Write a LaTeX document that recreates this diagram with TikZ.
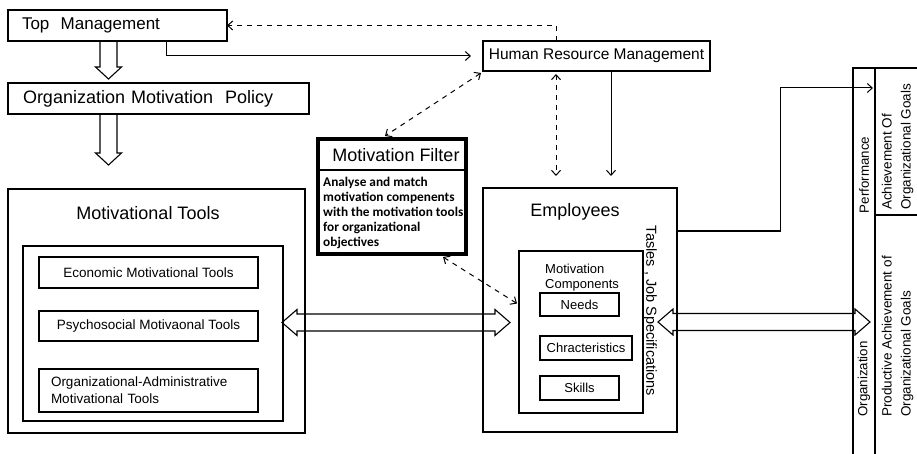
\documentclass[tikz,border=0pt]{standalone}
\usepackage{fontspec}
\setmainfont{Liberation Sans}
\newfontfamily\carl{Carlito}
\usetikzlibrary{calc,arrows.meta}
\newcommand\fsz[2]{\fontsize{#1pt}{#2pt}\selectfont}
% hollow downward arrow: x centre, y tail, y tip
\newcommand\hollowdown[3]{%
  \draw[harrow] (#1-8.5,#2) -- (#1-8.5,#3-12) -- (#1-13,#3-12) -- (#1,#3)
    -- (#1+13,#3-12) -- (#1+8.5,#3-12) -- (#1+8.5,#2);}
% hollow two-headed horizontal arrow: x left tip, x right tip, y centre
\newcommand\hollowboth[3]{%
  \draw[harrow] (#1,#3) -- (#1+15,#3-13) -- (#1+15,#3-8.5) -- (#2-15,#3-8.5)
    -- (#2-15,#3-13) -- (#2,#3) -- (#2-15,#3+13) -- (#2-15,#3+8.5)
    -- (#1+15,#3+8.5) -- (#1+15,#3+13) -- cycle;}
\begin{document}
\begin{tikzpicture}[x=1pt,y=-1pt,
  >={Straight Barb[length=5pt,width=9pt]},
  box/.style={draw, line width=1.1pt, outer sep=0pt, inner sep=0pt},
  conn/.style={line width=1pt, ->},
  dconn/.style={line width=1pt, dash pattern=on 5pt off 5pt},
  harrow/.style={draw, line width=1.1pt, line join=miter},
]
\useasboundingbox (0,0) rectangle (917,454);
\fill[white] (0,0) rectangle (917,454);
\clip (0,0) rectangle (917,454);

% top boxes
\node[box, anchor=north west, minimum width=219pt, minimum height=31pt, text width=191pt, inner xsep=14pt, align=left, font=\fsz{17}{20}] (tm) at (8,10) {Top\ \ Management};
\node[box, anchor=north west, minimum width=301pt, minimum height=31pt, text width=271pt, inner xsep=15pt, align=left, font=\fsz{18}{21}] (omp) at (8,83) {Organization Motivation\ \ Policy};
\node[box, anchor=north west, minimum width=227pt, minimum height=30pt, font=\fsz{15.5}{18}] (hrm) at (483,41) {Human Resource Management};

% motivation filter
\node[draw, line width=4pt, anchor=north west, minimum width=148pt, minimum height=115pt, outer sep=0pt, inner sep=0pt] (filter) at (318,139) {};
\draw[line width=1.1pt] ($(filter.north west)+(0,31)$) -- ($(filter.north east)+(0,31)$);
\node[font=\fsz{18}{21}] (ftitle) at ($(filter.north)+(4,16)$) {Motivation Filter};
\node[anchor=north west, inner sep=0pt, align=left, font=\carl\bfseries\fsz{13.3}{15}] (fbody) at (323,177) {Analyse and match\\motivation compenents\\with the motivation tools\\for organizational\\objectives};

% motivational tools
\node[box, anchor=north west, minimum width=297pt, minimum height=244pt] (mt) at (8,189) {};
\node[font=\fsz{18}{21}] (mttitle) at (148,213) {Motivational Tools};
\node[box, anchor=north west, minimum width=260pt, minimum height=175pt] (mtin) at (23,246) {};
\node[box, anchor=north west, minimum width=219pt, minimum height=31pt, font=\fsz{13.5}{16}] (eco) at (39,257) {Economic Motivational Tools};
\node[box, anchor=north west, minimum width=219pt, minimum height=30pt, font=\fsz{13.5}{16}] (psy) at (39,311) {Psychosocial Motivaonal Tools};
\node[box, anchor=north west, minimum width=219pt, minimum height=43pt, text width=195pt, inner xsep=12pt, align=left, font=\fsz{13.5}{17}] (oat) at (39,369) {Organizational-Administrative\\Motivational Tools};

% employees
\node[box, anchor=north west, minimum width=194pt, minimum height=244pt] (emp) at (483,188) {};
\node[font=\fsz{18}{21}] (emptitle) at (575,212) {Employees};
\node[box, anchor=north west, minimum width=124pt, minimum height=162pt] (mc) at (519,251) {};
\node[anchor=north west, inner sep=0pt, align=left, font=\fsz{13}{15}] (mctext) at (545,264) {Motivation\\Components};
\node[box, anchor=north west, minimum width=79pt, minimum height=23pt, font=\fsz{13}{15}] (needs) at (540,293) {Needs};
\node[box, anchor=north west, minimum width=92pt, minimum height=24pt, font=\fsz{13}{15}] (chr) at (540,336) {Chracteristics};
\node[box, anchor=north west, minimum width=79pt, minimum height=24pt, font=\fsz{13}{15}] (skills) at (540,376) {Skills};
\node[rotate=-90, font=\fsz{14.5}{17}] (tasks) at (650,311) {Tasles , Job Specifications};

% right panel
\node[box, anchor=north west, minimum width=22pt, minimum height=400pt] (strip) at (853,68) {};
\node[box, anchor=north west, minimum width=60pt, minimum height=147pt] (goal1) at (875,68) {};
\node[box, anchor=north west, minimum width=60pt, minimum height=260pt] (goal2) at (875,215) {};
\node[rotate=90, font=\fsz{13.3}{16}] (perf) at (864,175) {Performance};
\node[rotate=90, font=\fsz{13.3}{16}] (orgn) at (864,379) {Organization};
\node[rotate=90, anchor=west, inner sep=0pt, align=left, font=\fsz{13.5}{19}] (ach) at (897.5,210) {Achievement Of\\Organizational Goals};
\node[rotate=90, anchor=west, inner sep=0pt, align=left, font=\fsz{13.5}{19}] (prod) at (897.5,417) {Productive Achievement of\\Organizational Goals};

% hollow block arrows
\hollowdown{108.5}{41}{79}
\hollowdown{108.5}{114}{165}
\hollowboth{282}{510}{322.5}
\hollowboth{658}{870}{322}

% connectors
\draw[conn, shorten >=12pt] ($(tm.south west)+(158,0)$) |- (hrm.west);
\draw[dconn, ->] ($(hrm.north west)+(73,0)$) |- (tm.east);
\draw[dconn, <->] ($(hrm.south west)+(-2,2)$) -- ($(filter.north west)+(67,-3)$);
\draw[dconn, <->, shorten <=3pt, shorten >=12pt] ($(hrm.south west)+(73,0)$) -- ($(emp.north west)+(73,0)$);
\draw[conn, shorten >=12pt] ($(hrm.south west)+(128,0)$) -- ($(emp.north west)+(128,0)$);
\draw[dconn, <->] ($(filter.south east)+(-23,3)$) -- ($(needs.west)+(-23,-1)$);
\draw[conn] ($(emp.north east)+(0,43)$) -- ++(103,0) |- ($(strip.north east)+(-2,20)$);
\end{tikzpicture}
\end{document}
